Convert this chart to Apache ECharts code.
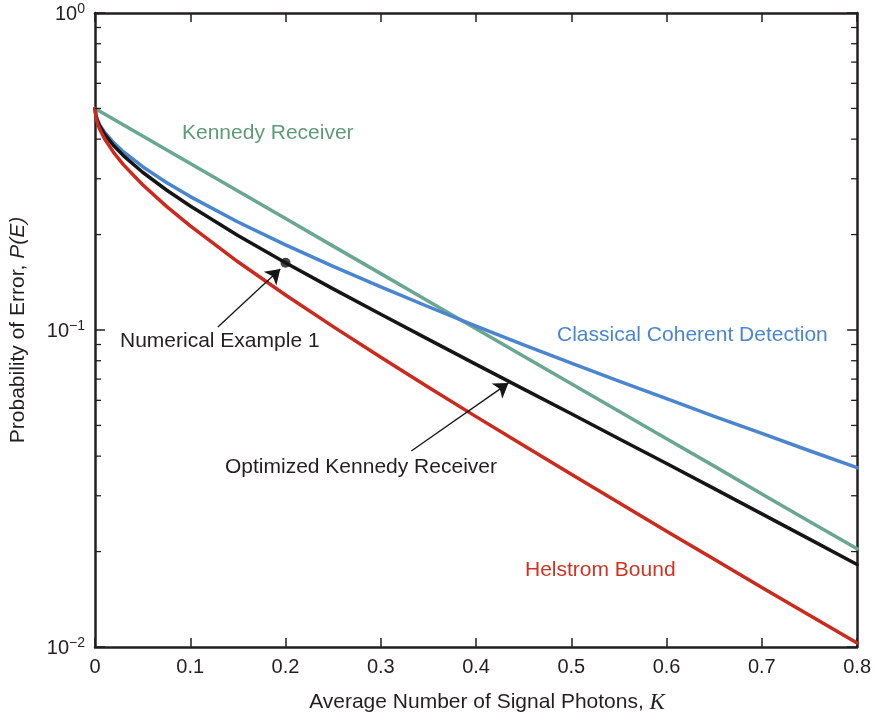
<!DOCTYPE html>
<html><head><meta charset="utf-8">
<script src="https://cdn.jsdelivr.net/npm/echarts@6/dist/echarts.min.js"></script>
<style>html,body{margin:0;padding:0;background:#fff}#c{width:874px;height:720px}</style>
</head><body><div id="c"></div>
<script>
// ---- data ----
const photons   = [0, 0.001, 0.0025, 0.005, 0.01, 0.02, 0.03, 0.05, 0.075, 0.1, 0.15, 0.2, 0.25, 0.3, 0.35, 0.4, 0.45, 0.5, 0.55, 0.6, 0.65, 0.7, 0.75, 0.8];
const kennedy   = [0.5, 0.4980, 0.4950, 0.4901, 0.4804, 0.4616, 0.4435, 0.4094, 0.3704, 0.3352, 0.2744, 0.2247, 0.1839, 0.1506, 0.1233, 0.1009, 0.0826, 0.0677, 0.0554, 0.0454, 0.0372, 0.0304, 0.0249, 0.0204];
const classical = [0.5, 0.4748, 0.4602, 0.4438, 0.4207, 0.3887, 0.3645, 0.3274, 0.2920, 0.2635, 0.2192, 0.1855, 0.1587, 0.1367, 0.1184, 0.1029, 0.0898, 0.0786, 0.0690, 0.0607, 0.0534, 0.0472, 0.0416, 0.0368];
const optimized = [0.5, 0.4729, 0.4572, 0.4396, 0.4148, 0.3803, 0.3544, 0.3145, 0.2765, 0.2460, 0.1988, 0.1630, 0.1348, 0.1121, 0.0934, 0.0779, 0.0651, 0.0544, 0.0454, 0.0379, 0.0316, 0.0263, 0.0219, 0.0182];
const helstrom  = [0.5, 0.4684, 0.4501, 0.4296, 0.4010, 0.3614, 0.3319, 0.2871, 0.2455, 0.2129, 0.1641, 0.1290, 0.1025, 0.0820, 0.0660, 0.0533, 0.0432, 0.0351, 0.0285, 0.0232, 0.0189, 0.0154, 0.0126, 0.0103];
const exampleK  = [0.2];
const exampleP  = [0.163];
const xTickLabels = ['0', '0.1', '0.2', '0.3', '0.4', '0.5', '0.6', '0.7', '0.8'];
const yTickExps   = ['\u22122', '\u22121', '0'];
const yMinorTicks = [0.02, 0.03, 0.04, 0.05, 0.06, 0.07, 0.08, 0.09, 0.2, 0.3, 0.4, 0.5, 0.6, 0.7, 0.8, 0.9];
const arrowFrom = [[0.129, 0.1022], [0.332, 0.0415]];
const arrowTo   = [[0.1945, 0.1557], [0.434, 0.068]];
const annotationTexts = ['Kennedy Receiver', 'Classical Coherent Detection', 'Numerical Example 1', 'Optimized Kennedy Receiver', 'Helstrom Bound'];

// ---- chart ----
const FONT = "'Liberation Sans', Arial, Helvetica, sans-serif";
const INK = '#231f20';
const C_GREEN = '#6aa792', C_BLUE = '#4a86cf', C_BLACK = '#151515', C_RED = '#cc2a1c';
const pair = (ys) => photons.map((x, i) => [x, ys[i]]);

const chart = echarts.init(document.getElementById('c'), null, {renderer: 'canvas'});

const axisLine = {show: true, onZero: false, lineStyle: {color: INK, width: 2.5}};
const yBase = {type: 'log', logBase: 10, min: 0.01, max: 1, splitLine: {show: false}};

function lineSeries(ys, color) {
  return {type: 'line', data: pair(ys), showSymbol: false, symbol: 'none', smooth: false,
    lineStyle: {color: color, width: 3.5, cap: 'round', join: 'round'}, xAxisIndex: 0, yAxisIndex: 0, silent: true, z: 3};
}

const option = {
  animation: false,
  backgroundColor: '#fff',
  grid: {left: 93, right: 12, top: 13, bottom: 73, containLabel: false},
  xAxis: [
    {type: 'value', position: 'bottom', min: 0, max: 0.8, interval: 0.1,
     axisLine: axisLine, splitLine: {show: false},
     axisTick: {show: true, inside: true, length: 9, lineStyle: {color: INK, width: 1.5}},
     axisLabel: {show: true, margin: 10, color: INK, fontSize: 20, fontFamily: FONT,
       formatter: (v, i) => xTickLabels[i]},
     name: 'Average Number of Signal Photons, {k|K}', nameLocation: 'middle', nameGap: 44,
     nameTextStyle: {color: INK, fontSize: 21, fontFamily: FONT, padding: [0, 0, 0, 22],
       rich: {k: {fontFamily: "'Liberation Serif', 'Times New Roman', serif", fontStyle: 'italic', fontSize: 23, color: INK}}}},
    {type: 'value', position: 'top', min: 0, max: 0.8, interval: 0.1,
     axisLine: axisLine, splitLine: {show: false},
     axisTick: {show: true, inside: true, length: 9, lineStyle: {color: INK, width: 1.5}},
     axisLabel: {show: false}}
  ],
  yAxis: [
    Object.assign({}, yBase, {position: 'left', axisLine: axisLine,
      axisTick: {show: true, inside: true, length: 10, lineStyle: {color: INK, width: 1.5}},
      axisLabel: {show: true, margin: 10, color: INK, fontFamily: FONT,
        formatter: (v, i) => '{b|10}{s|' + yTickExps[i] + '}',
        rich: {b: {fontSize: 20, fontFamily: FONT, color: INK, verticalAlign: 'bottom'},
               s: {fontSize: 14, fontFamily: FONT, color: INK, verticalAlign: 'bottom', padding: [0, 0, 8, 0]}}},
      name: 'Probability of Error, {i|P(E)}', nameLocation: 'middle', nameGap: 66, nameRotate: 90,
      nameTextStyle: {color: INK, fontSize: 21, fontFamily: FONT,
        rich: {i: {fontStyle: 'italic', fontSize: 21, fontFamily: FONT, color: INK}}}}),
    Object.assign({}, yBase, {position: 'right', axisLine: axisLine,
      axisTick: {show: true, inside: true, length: 10, lineStyle: {color: INK, width: 1.5}},
      axisLabel: {show: false}})
  ],
  series: [
    // minor ticks of the log axes, placed through the axes' own scales
    {type: 'custom', xAxisIndex: 0, yAxisIndex: 0, silent: true, z: 6, clip: false,
     data: yMinorTicks.map(v => [0, v]),
     renderItem: function (params, api) {
       const l = api.coord([0, api.value(1)]);
       const r = api.coord([0.8, api.value(1)]);
       const st = {stroke: INK, lineWidth: 1.3};
       return {type: 'group', children: [
         {type: 'line', shape: {x1: l[0], y1: l[1], x2: l[0] + 6, y2: l[1]}, style: st},
         {type: 'line', shape: {x1: r[0], y1: r[1], x2: r[0] - 6, y2: r[1]}, style: st}
       ]};
     }},
    lineSeries(kennedy, C_GREEN),
    lineSeries(classical, C_BLUE),
    lineSeries(optimized, C_BLACK),
    lineSeries(helstrom, C_RED),
    {type: 'scatter', xAxisIndex: 0, yAxisIndex: 0, silent: true, z: 5,
     data: exampleK.map((k, i) => [k, exampleP[i]]), symbol: 'circle', symbolSize: 10,
     itemStyle: {color: C_BLACK},
     markLine: {silent: true, animation: false, symbol: ['none', 'arrow'], symbolSize: 14,
       label: {show: false}, emphasis: {disabled: true},
       lineStyle: {color: C_BLACK, width: 1.3, type: 'solid'},
       data: arrowFrom.map((f, i) => [{coord: f}, {coord: arrowTo[i]}])}}
  ],
  graphic: [
    {type: 'text', left: 182, top: 123, style: {text: annotationTexts[0], fill: '#5f9a78', fontSize: 21, fontFamily: FONT}},
    {type: 'text', left: 557, top: 325, style: {text: annotationTexts[1], fill: C_BLUE, fontSize: 21, fontFamily: FONT}},
    {type: 'text', left: 120, top: 331, style: {text: annotationTexts[2], fill: INK, fontSize: 21, fontFamily: FONT}},
    {type: 'text', left: 225, top: 457, style: {text: annotationTexts[3], fill: INK, fontSize: 21, fontFamily: FONT}},
    {type: 'text', left: 525, top: 560, style: {text: annotationTexts[4], fill: '#cc3322', fontSize: 21, fontFamily: FONT}}
  ]
};
chart.setOption(option);
</script></body></html>
